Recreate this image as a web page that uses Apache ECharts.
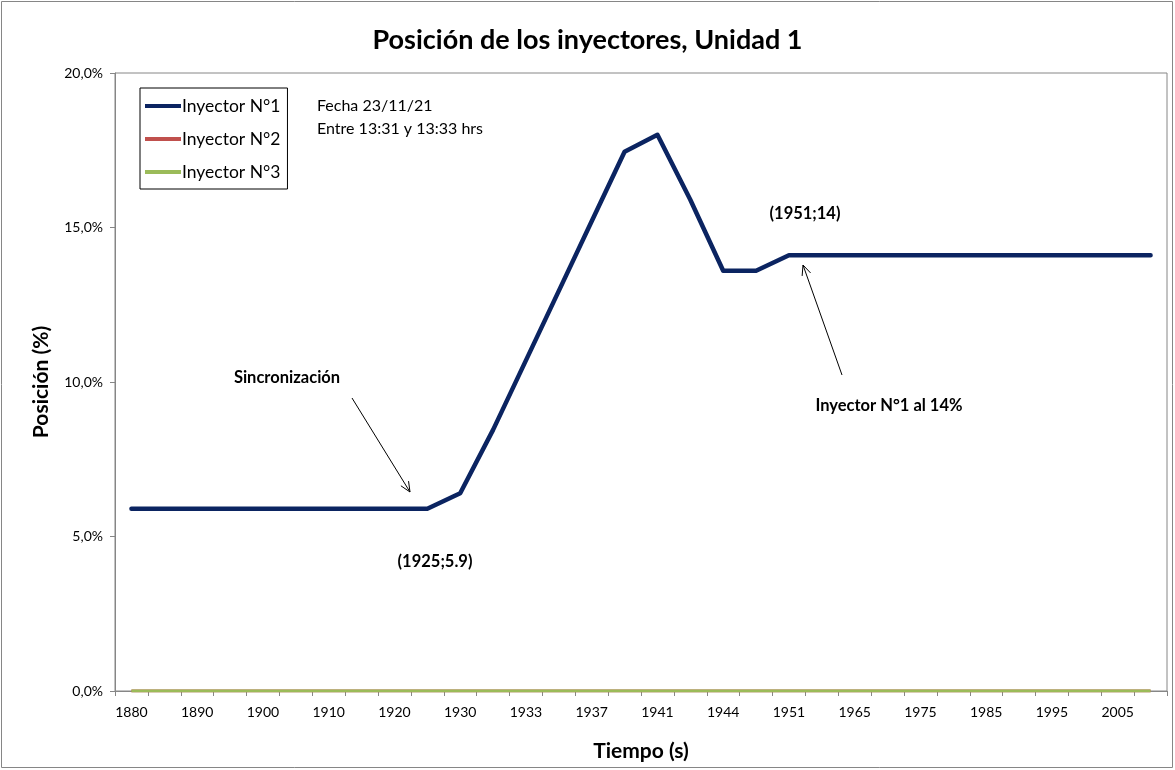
<!DOCTYPE html>
<html>
<head>
<meta charset="utf-8">
<script src="https://cdn.jsdelivr.net/npm/echarts@6/dist/echarts.min.js"></script>
<style>
html,body{margin:0;padding:0;background:#fff;}
#chart{width:1175px;height:770px;}
</style>
</head>
<body>
<div id="chart"></div>
<script>
const categories = ['1880','1885','1890','1895','1900','1905','1910','1915','1920','1925','1930','1931','1933','1935','1937','1939','1941','1942','1944','1947','1951','1958','1965','1970','1975','1980','1985','1990','1995','2000','2005','2010'];
const inyector1 = [5.9,5.9,5.9,5.9,5.9,5.9,5.9,5.9,5.9,5.9,6.4,8.45,10.7,12.95,15.2,17.45,18.0,15.9,13.6,13.6,14.1,14.1,14.1,14.1,14.1,14.1,14.1,14.1,14.1,14.1,14.1,14.1];
const inyector2 = [0,0,0,0,0,0,0,0,0,0,0,0,0,0,0,0,0,0,0,0,0,0,0,0,0,0,0,0,0,0,0,0];
const inyector3 = [0,0,0,0,0,0,0,0,0,0,0,0,0,0,0,0,0,0,0,0,0,0,0,0,0,0,0,0,0,0,0,0];
const seriesNames = ['Inyector N°1','Inyector N°2','Inyector N°3'];
const yTicks = [0,5,10,15,20];

const FONT = 'Lato';
const chart = echarts.init(document.getElementById('chart'), null, {renderer:'canvas'});

function arrow(x1,y1,x2,y2){
  const ang = Math.atan2(y2-y1, x2-x1);
  const L = 11, a = 0.42;
  const p1 = [x2 - L*Math.cos(ang-a), y2 - L*Math.sin(ang-a)];
  const p2 = [x2 - L*Math.cos(ang+a), y2 - L*Math.sin(ang+a)];
  return [
    {type:'line', shape:{x1:x1,y1:y1,x2:x2,y2:y2}, style:{stroke:'#000', lineWidth:1}, z:10},
    {type:'polyline', shape:{points:[p1,[x2,y2],p2]}, style:{stroke:'#000', lineWidth:1, fill:null}, z:10}
  ];
}
function txt(x,y,t,bold,size,align){
  return {type:'text', x:x, y:y, z:10, style:{text:t, fill:'#000', font:(bold?'bold ':'')+size+'px '+FONT, textAlign:align||'left', textVerticalAlign:'middle'}};
}

const option = {
  backgroundColor:'#fff',
  animation:false,
  title:{
    text:'Posición de los inyectores, Unidad 1',
    left:'center', top:22,
    textStyle:{fontFamily:FONT, fontSize:27, fontWeight:'bold', color:'#000'}
  },
  legend:{
    orient:'vertical', left:140, top:88,
    data:seriesNames,
    icon:'rect',
    borderColor:'#000', borderWidth:1,
    padding:[9,7,8,5],
    itemWidth:36, itemHeight:4, itemGap:15,
    textStyle:{fontFamily:FONT, fontSize:17.5, lineHeight:17, color:'#000', padding:[0,0,0,-4]}
  },
  grid:{left:115, top:73, width:1052, height:618, show:true, borderColor:'#868686', borderWidth:1, containLabel:false},
  xAxis:{
    type:'category', data:categories, boundaryGap:true,
    name:'Tiempo (s)', nameLocation:'middle', nameGap:50,
    nameTextStyle:{fontFamily:FONT, fontSize:21, fontWeight:'bold', color:'#000'},
    axisLine:{lineStyle:{color:'#868686', width:1}},
    axisTick:{show:true, interval:0, length:5, lineStyle:{color:'#868686'}},
    axisLabel:{interval:1, margin:14, fontFamily:FONT, fontSize:14, color:'#000'},
    splitLine:{show:false}
  },
  yAxis:{
    type:'value', min:0, max:20, interval:5,
    name:'Posición (%)', nameLocation:'middle', nameGap:63, nameRotate:90,
    nameTextStyle:{fontFamily:FONT, fontSize:21, fontWeight:'bold', color:'#000'},
    axisLine:{show:true, lineStyle:{color:'#868686', width:1}},
    axisTick:{show:true, length:5, lineStyle:{color:'#868686'}},
    axisLabel:{margin:12, fontFamily:FONT, fontSize:14, color:'#000',
      formatter:function(v){return v.toFixed(1).replace('.',',')+'%';}},
    splitLine:{show:false}
  },
  series:[
    {name:seriesNames[0], type:'line', data:inyector1, symbol:'none', z:4,
     lineStyle:{color:'#0B2461', width:4.5, cap:'round', join:'round'}, itemStyle:{color:'#0B2461'}},
    {name:seriesNames[1], type:'line', data:inyector2, symbol:'none', z:2,
     lineStyle:{color:'#C0504D', width:3}, itemStyle:{color:'#C0504D'}},
    {name:seriesNames[2], type:'line', data:inyector3, symbol:'none', z:3,
     lineStyle:{color:'#9BBB59', width:3}, itemStyle:{color:'#9BBB59'}}
  ],
  graphic:[
    {type:'rect', shape:{x:1.5,y:1.5,width:1171,height:766}, style:{fill:null, stroke:'#868686', lineWidth:1}, z:-1, silent:true},
    txt(317,106,'Fecha 23/11/21',false,16),
    txt(317,129,'Entre 13:31 y 13:33 hrs',false,16),
    txt(805,214,'(1951;14)',true,16.5,'center'),
    txt(287,378,'Sincronización',true,16.5,'center'),
    txt(435,562,'(1925;5.9)',true,16.5,'center'),
    txt(889,406,'Inyector N°1 al 14%',true,16.5,'center')
  ].concat(arrow(352,398,410,492)).concat(arrow(842,375,803,265))
};
chart.setOption(option);
</script>
</body>
</html>
